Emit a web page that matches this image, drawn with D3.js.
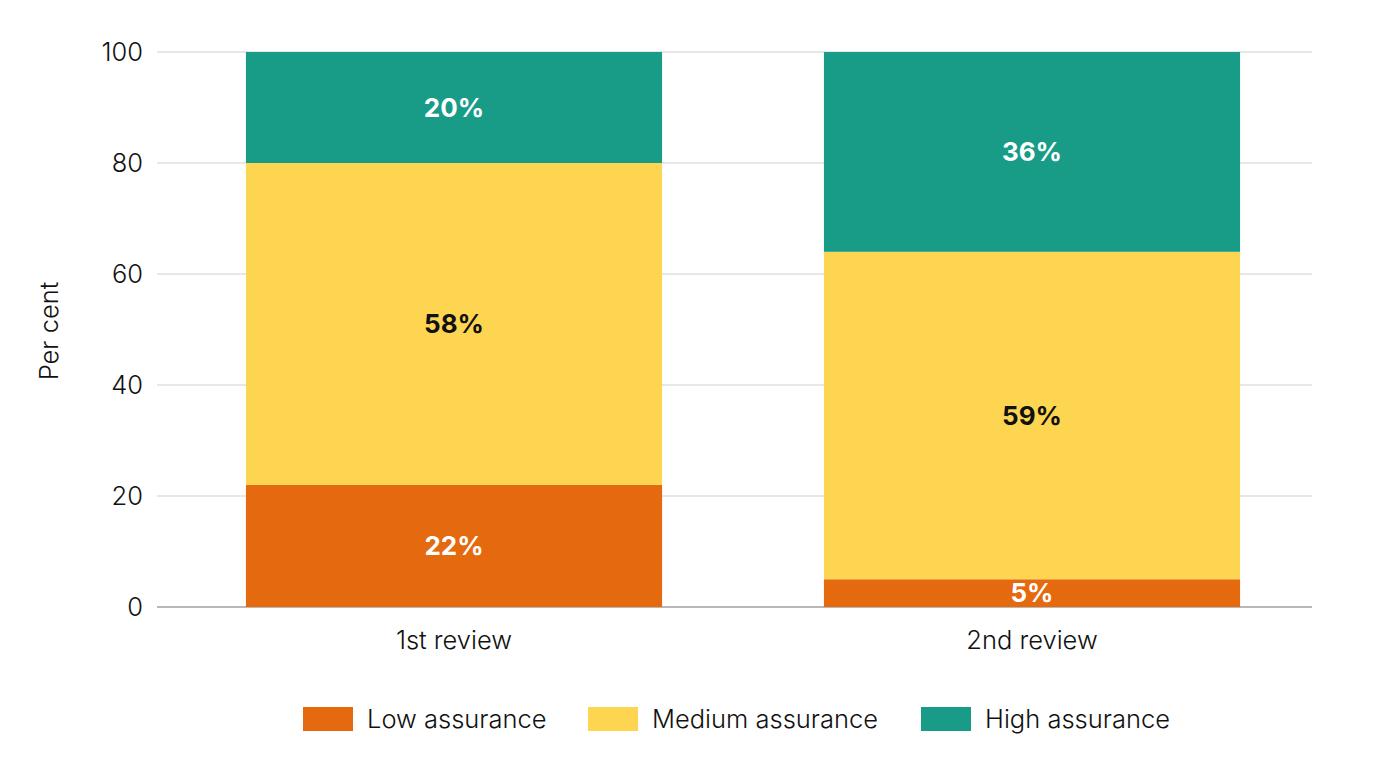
<!DOCTYPE html>
<html>
<head>
<meta charset="utf-8">
<script src="https://cdn.jsdelivr.net/npm/d3@7"></script>
<style>
  body { margin: 0; background: #fff; }
  text { font-family: Inter, "Noto Sans", sans-serif; }
</style>
</head>
<body>
<svg id="chart" width="1378" height="774"></svg>
<script>
// data
let reviews = ["1st review", "2nd review"];
let levels = ["Low assurance", "Medium assurance", "High assurance"];
let lowVals = [22, 5];
let mediumVals = [58, 59];
let highVals = [20, 36];
let yTicks = [0, 20, 40, 60, 80, 100];

let colours = ["#e5690e", "#fed551", "#189c87"];
let labelColours = ["#fff", "#111", "#fff"];

let rows = reviews.map((r, i) => ({
  review: r,
  "Low assurance": lowVals[i],
  "Medium assurance": mediumVals[i],
  "High assurance": highVals[i]
}));

let svg = d3.select("#chart");
let plotLeft = 157, plotRight = 1312, plotTop = 52, plotBottom = 607;
let fs = 25.5;

let x = d3.scaleBand().domain(reviews).range([165, 1321])
  .paddingInner(0.28).paddingOuter(0.14);
let y = d3.scaleLinear().domain([0, 100]).range([plotBottom, plotTop]);

// gridlines
svg.append("g").selectAll("line").data(yTicks).join("line")
  .attr("x1", plotLeft).attr("x2", plotRight)
  .attr("y1", d => y(d)).attr("y2", d => y(d))
  .attr("stroke", d => d == 0 ? "#b8b8b8" : "#cfcfcf")
  .attr("stroke-width", d => d == 0 ? 2 : 1);

// y tick labels
svg.append("g").selectAll("text").data(yTicks).join("text")
  .attr("x", 143).attr("y", d => y(d))
  .attr("dy", "0.35em")
  .attr("text-anchor", "end")
  .attr("font-size", fs)
  .attr("font-weight", 300)
  .attr("fill", "#111")
  .text(d => d);

svg.append("text")
  .attr("transform", "translate(58,331) rotate(-90)")
  .attr("text-anchor", "middle")
  .attr("font-size", fs)
  .attr("font-weight", 300)
  .attr("fill", "#111")
  .text("Per cent");

let stacked = d3.stack().keys(levels)(rows);

let layer = svg.append("g").selectAll("g").data(stacked).join("g")
  .attr("fill", (d, i) => colours[i]);

layer.selectAll("rect").data(d => d).join("rect")
  .attr("x", d => x(d.data.review))
  .attr("width", x.bandwidth())
  .attr("y", d => y(d[1]))
  .attr("height", d => y(d[0]) - y(d[1]));

// value labels
svg.append("g").selectAll("g").data(stacked).join("g")
  .attr("fill", (d, i) => labelColours[i])
  .selectAll("text").data(d => d).join("text")
  .attr("x", d => x(d.data.review) + x.bandwidth() / 2)
  .attr("y", d => (y(d[0]) + y(d[1])) / 2)
  .attr("dy", "0.36em")
  .attr("text-anchor", "middle")
  .attr("font-size", 26)
  .attr("font-weight", "bold")
  .text(d => (d[1] - d[0]) + "%");

// category labels
svg.append("g").selectAll("text").data(reviews).join("text")
  .attr("x", d => x(d) + x.bandwidth() / 2)
  .attr("y", 640)
  .attr("dy", "0.35em")
  .attr("text-anchor", "middle")
  .attr("font-size", fs)
  .attr("font-weight", 300)
  .attr("fill", "#111")
  .text(d => d);

// legend
let legendX = [303, 588, 921];
let leg = svg.append("g").selectAll("g").data(levels).join("g")
  .attr("transform", (d, i) => `translate(${legendX[i]},707)`);
leg.append("rect").attr("width", 50).attr("height", 24)
  .attr("fill", (d, i) => colours[i]);
leg.append("text").attr("x", 64).attr("y", 12).attr("dy", "0.36em")
  .attr("font-size", fs).attr("font-weight", 300).attr("fill", "#111")
  .text(d => d);
</script>
</body>
</html>
